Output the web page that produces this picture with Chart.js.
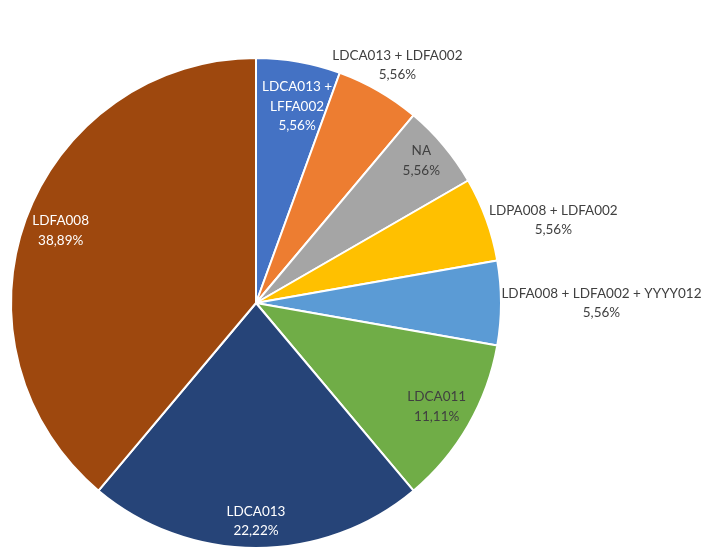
<!DOCTYPE html>
<html>
<head>
<meta charset="utf-8">
<script src="https://cdn.jsdelivr.net/npm/chart.js@4/dist/chart.umd.min.js"></script>
<style>
html,body{margin:0;padding:0;background:#fff;overflow:hidden;}
#wrap{width:704px;height:547px;position:relative;}
</style>
</head>
<body>
<div id="wrap"><canvas id="c" width="704" height="547"></canvas></div>
<script>
const categories = [
  "LDCA013 + LFFA002",
  "LDCA013 + LDFA002",
  "NA",
  "LDPA008 + LDFA002",
  "LDFA008 + LDFA002 + YYYY012",
  "LDCA011",
  "LDCA013",
  "LDFA008"
];
const counts = [1, 1, 1, 1, 1, 2, 4, 7];
const percentLabels = ["5,56%", "5,56%", "5,56%", "5,56%", "5,56%", "11,11%", "22,22%", "38,89%"];

const colors = ["#4472C4", "#ED7D31", "#A5A5A5", "#FFC000", "#5B9BD5", "#70AD47", "#264478", "#9E480E"];
// label placement: angle offset from slice middle (deg), distance as fraction of radius, text colour, line breaks
const labelStyle = [
  {da: 1.8, f: 0.82, color: "#ffffff", lines: ["LDCA013 +", "LFFA002"]},
  {da: 0.7, f: 1.13, color: "#404040"},
  {da: -0.7, f: 0.89, color: "#404040"},
  {da: 4.4, f: 1.26, color: "#404040"},
  {da: 0, f: 1.41, color: "#404040"},
  {da: -0.2, f: 0.85, color: "#404040"},
  {da: 0, f: 0.89, color: "#ffffff"},
  {da: 0.3, f: 0.85, color: "#ffffff"}
];

const labelPlugin = {
  id: 'sliceLabels',
  afterDatasetsDraw(chart) {
    const ctx = chart.ctx;
    const meta = chart.getDatasetMeta(0);
    ctx.save();
    ctx.font = '13.5px Lato, "Open Sans", sans-serif';
    ctx.textAlign = 'center';
    ctx.textBaseline = 'middle';
    meta.data.forEach((arc, i) => {
      const p = arc.getProps(['x','y','startAngle','endAngle','outerRadius'], true);
      const st = labelStyle[i];
      const mid = (p.startAngle + p.endAngle) / 2 + st.da * Math.PI / 180;
      const d = p.outerRadius * st.f;
      const cx = p.x + Math.cos(mid) * d;
      const cy = p.y + Math.sin(mid) * d;
      const lines = (st.lines ? st.lines : [categories[i]]).concat([percentLabels[i]]);
      const lh = 19.5;
      const y0 = cy - (lines.length - 1) * lh / 2;
      ctx.fillStyle = st.color;
      lines.forEach((t, k) => ctx.fillText(t, cx, y0 + k * lh));
    });
    ctx.restore();
  }
};

new Chart(document.getElementById('c'), {
  type: 'pie',
  data: {
    labels: categories,
    datasets: [{
      data: counts,
      backgroundColor: colors,
      borderColor: '#ffffff',
      borderWidth: 2
    }]
  },
  options: {
    responsive: false,
    animation: false,
    radius: 245,
    layout: {padding: {left: 0, right: 192, top: 59, bottom: 0}},
    plugins: {legend: {display: false}, tooltip: {enabled: false}}
  },
  plugins: [labelPlugin]
});
</script>
</body>
</html>
